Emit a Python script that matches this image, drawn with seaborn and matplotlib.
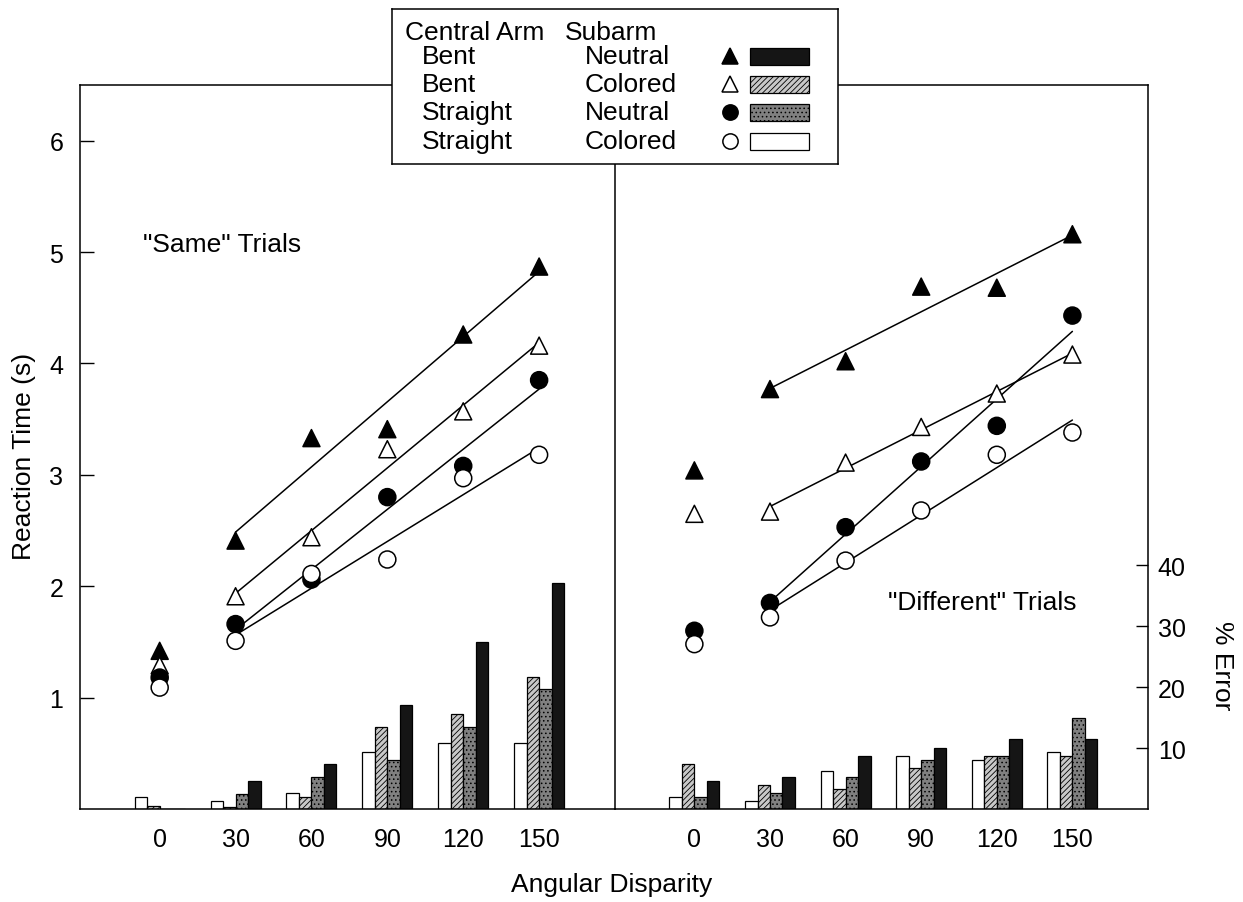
import matplotlib
matplotlib.use("Agg")
import matplotlib.pyplot as plt
import numpy as np
import pandas as pd
import seaborn as sns
from matplotlib.patches import Rectangle

# Data
angles = [0, 30, 60, 90, 120, 150]
conditions = ["Bent Neutral", "Bent Colored", "Straight Neutral", "Straight Colored"]
central_arm = ["Bent", "Bent", "Straight", "Straight"]
subarm = ["Neutral", "Colored", "Neutral", "Colored"]

# Reaction time (s)
same_bent_neutral = [1.42, 2.41, 3.33, 3.41, 4.26, 4.87]
same_bent_colored = [1.29, 1.91, 2.44, 3.23, 3.57, 4.16]
same_straight_neutral = [1.18, 1.66, 2.06, 2.80, 3.08, 3.85]
same_straight_colored = [1.09, 1.51, 2.11, 2.24, 2.97, 3.18]

diff_bent_neutral = [3.04, 3.77, 4.02, 4.69, 4.68, 5.16]
diff_bent_colored = [2.65, 2.67, 3.11, 3.43, 3.73, 4.08]
diff_straight_neutral = [1.60, 1.85, 2.53, 3.12, 3.44, 4.43]
diff_straight_colored = [1.48, 1.72, 2.23, 2.68, 3.18, 3.38]

# % error
same_err_bent_neutral = [0.0, 4.6, 7.4, 17.0, 27.4, 37.0]
same_err_bent_colored = [0.5, 0.4, 1.9, 13.5, 15.6, 21.7]
same_err_straight_neutral = [0.0, 2.5, 5.3, 8.0, 13.5, 19.7]
same_err_straight_colored = [2.0, 1.3, 2.6, 9.4, 10.8, 10.8]

diff_err_bent_neutral = [4.6, 5.3, 8.7, 10.0, 11.5, 11.5]
diff_err_bent_colored = [7.3, 3.9, 3.3, 6.7, 8.7, 8.7]
diff_err_straight_neutral = [1.9, 2.6, 5.3, 8.1, 8.7, 15.0]
diff_err_straight_colored = [1.9, 1.25, 6.2, 8.7, 8.0, 9.4]

rt_ticks = [1, 2, 3, 4, 5, 6]
err_ticks = [10, 20, 30, 40]


def long_table(series, name):
    rows = []
    for cond, vals in zip(conditions, series):
        for a, v in zip(angles, vals):
            rows.append({"condition": cond, "angle": a, name: v})
    return pd.DataFrame(rows)


same_rt = long_table([same_bent_neutral, same_bent_colored,
                      same_straight_neutral, same_straight_colored], "rt")
diff_rt = long_table([diff_bent_neutral, diff_bent_colored,
                      diff_straight_neutral, diff_straight_colored], "rt")
same_err = long_table([same_err_bent_neutral, same_err_bent_colored,
                       same_err_straight_neutral, same_err_straight_colored], "err")
diff_err = long_table([diff_err_bent_neutral, diff_err_bent_colored,
                       diff_err_straight_neutral, diff_err_straight_colored], "err")

# Styles
markers = {"Bent Neutral": "^", "Bent Colored": "^",
           "Straight Neutral": "o", "Straight Colored": "o"}
marker_fill = {"Bent Neutral": "black", "Bent Colored": "white",
               "Straight Neutral": "black", "Straight Colored": "white"}
bar_order = ["Straight Colored", "Bent Colored", "Straight Neutral", "Bent Neutral"]
bar_fill = {"Straight Colored": "white", "Bent Colored": "#c8c8c8",
            "Straight Neutral": "#808080", "Bent Neutral": "#151515"}
bar_hatch = {"Straight Colored": "", "Bent Colored": "//////",
             "Straight Neutral": "....", "Bent Neutral": ""}

sns.set_style("white")
plt.rcParams["font.family"] = ["Liberation Sans", "DejaVu Sans"]
plt.rcParams["hatch.linewidth"] = 0.6
plt.rcParams["hatch.color"] = "black"
for key in ["text.color", "axes.labelcolor", "xtick.color", "ytick.color"]:
    plt.rcParams[key] = "black"

W, H = 1243, 903
fig = plt.figure(figsize=(W / 100, H / 100), dpi=100)

ax_l = fig.add_axes([80 / W, 93 / H, 535 / W, 724 / H])
ax_r = fig.add_axes([615 / W, 93 / H, 533 / W, 724 / H])

RT_MAX = 6.5
ERR_MAX = 118.7
XLIM = (-31.5, 180)

twins = {}
for ax, rt_df, err_df, rt_lists in [
    (ax_l, same_rt, same_err, [same_bent_neutral, same_bent_colored,
                               same_straight_neutral, same_straight_colored]),
    (ax_r, diff_rt, diff_err, [diff_bent_neutral, diff_bent_colored,
                               diff_straight_neutral, diff_straight_colored]),
]:
    tax = ax.twinx()
    sns.barplot(data=err_df, x="angle", y="err", hue="condition",
                hue_order=bar_order, palette=bar_fill, native_scale=True,
                dodge=True, width=0.66, errorbar=None, edgecolor="black",
                linewidth=0.9, legend=False, ax=tax)
    for cont, cond in zip(tax.containers, bar_order):
        for bar in cont:
            bar.set_hatch(bar_hatch[cond])
    tax.set_ylim(0, ERR_MAX)
    tax.set_ylabel("")
    tax.set_xlabel("")

    # fitted lines over 30-150
    for vals in rt_lists:
        sns.regplot(x=np.array(angles[1:]), y=np.array(vals[1:]), ci=None,
                    scatter=False, truncate=True,
                    line_kws={"color": "black", "lw": 1.1}, ax=ax)
    sns.scatterplot(data=rt_df, x="angle", y="rt", hue="condition",
                    style="condition", markers=markers, palette=marker_fill,
                    edgecolor="black", linewidth=1.1, s=150, legend=False,
                    zorder=4, ax=ax)
    ax.set_zorder(tax.get_zorder() + 1)
    ax.patch.set_visible(False)
    ax.set_ylim(0, RT_MAX)
    ax.set_xlim(*XLIM)
    ax.set_xlabel("")
    ax.set_ylabel("")
    ax.set_xticks(angles)
    ax.set_xticklabels([str(a) for a in angles])
    ax.tick_params(axis="x", length=0, pad=13, labelsize=18, bottom=True,
                   labelbottom=True)
    for sp in tax.spines.values():
        sp.set_visible(False)
    for sp in ax.spines.values():
        sp.set_color("black")
        sp.set_linewidth(1.1)
    tax.grid(False)
    ax.grid(False)
    twins[ax] = tax

# left panel axis
ax_l.set_yticks(rt_ticks)
ax_l.tick_params(axis="y", direction="in", length=10, width=1, pad=12,
                 labelsize=18, left=True)
twins[ax_l].set_yticks([])

# right panel axis
ax_r.set_yticks([])
ax_r.spines["left"].set_visible(False)
ax_r.spines["right"].set_visible(False)
tr = twins[ax_r]
tr.spines["right"].set_visible(True)
tr.spines["right"].set_color("black")
tr.spines["right"].set_linewidth(1.1)
tr.set_yticks(err_ticks)
tr.tick_params(axis="y", direction="in", length=9, width=1, pad=7,
               labelsize=18, right=True)

ax_l.text(0.118, 0.780, '"Same" Trials', transform=ax_l.transAxes,
          fontsize=19, ha="left", va="center")
ax_r.text(0.512, 0.286, '"Different" Trials', transform=ax_r.transAxes,
          fontsize=19, ha="left", va="center")

fig.text(24 / W, 1 - 456 / H, "Reaction Time (s)", rotation=90,
         ha="center", va="center", fontsize=19)
fig.text(1222 / W, 1 - 666 / H, "% Error", rotation=270,
         ha="center", va="center", fontsize=19)
fig.text(612 / W, 1 - 885 / H, "Angular Disparity",
         ha="center", va="center", fontsize=19)

# legend box
lax = fig.add_axes([392 / W, 1 - 165 / H, 446 / W, 155 / H])
lax.set_zorder(20)
lax.set_xlim(0, 446)
lax.set_ylim(155, 0)
lax.set_xticks([])
lax.set_yticks([])
lax.set_facecolor("white")
for sp in lax.spines.values():
    sp.set_visible(True)
    sp.set_color("black")
    sp.set_linewidth(1.1)
lax.text(13, 23, "Central Arm", fontsize=19, ha="left", va="center")
lax.text(173, 23, "Subarm", fontsize=19, ha="left", va="center")
rows_y = [47, 75, 103, 132]
for y, cond, ca, sa in zip(rows_y, conditions, central_arm, subarm):
    lax.text(30, y, ca, fontsize=19, ha="left", va="center")
    lax.text(193, y, sa, fontsize=19, ha="left", va="center")
    lax.plot([338], [y], marker=markers[cond], ms=11,
             mfc=marker_fill[cond], mec="black", mew=1.1, ls="none")
    lax.add_patch(Rectangle((358, y - 8.5), 59, 17, facecolor=bar_fill[cond],
                            edgecolor="black", lw=0.9, hatch=bar_hatch[cond]))

fig.savefig("out.png", dpi=100)
